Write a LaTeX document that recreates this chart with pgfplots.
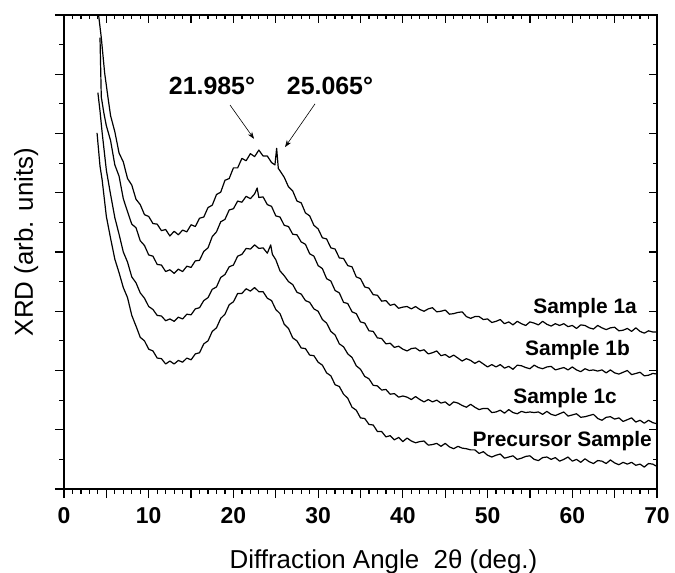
\documentclass[border=0pt]{standalone}
\usepackage{fontspec}
\setmainfont{Liberation Sans}
\usepackage{pgfplots}
\pgfplotsset{compat=1.18}
\usetikzlibrary{arrows.meta}
\tikzset{curve/.style={black, line width=1.2bp, mark=none, line join=round}}

\begin{document}
\begin{tikzpicture}
\path[use as bounding box] (-64bp,-84bp) rectangle (611bp,489bp);
\begin{axis}[
  scale only axis, width=593bp, height=474bp,
  xmin=0, xmax=70, ymin=0, ymax=8,
  axis line style={line width=1.6bp},
  xtick={0,5,...,70},
  xticklabels={\textbf{0},,\textbf{10},,\textbf{20},,\textbf{30},,\textbf{40},,\textbf{50},,\textbf{60},,\textbf{70}},
  minor x tick num=4,
  ytick={0,1,...,8}, yticklabels={},
  minor y tick num=1,
  xtick pos=left, ytick pos=left,
  tick align=outside,
  major tick length=9bp, minor tick length=4.5bp,
  tick style={line width=1.2bp, black},
  xticklabel style={font=\fontsize{23}{23}\selectfont\bfseries, inner sep=0pt, anchor=north, yshift=-9bp},
  xlabel={Diffraction Angle\ \ 2θ (deg.)},
  xlabel style={font=\fontsize{26}{26}\selectfont, at={(axis description cs:0.5388,-0.1667)}, anchor=base},
  ylabel={XRD (arb. units)},
  ylabel style={font=\fontsize{26}{26}\selectfont, at={(axis description cs:-0.0523,0.521)}, anchor=base},
]
% Sample 1a
\addplot[curve] coordinates {(4.0,8.10)(4.4,7.62)(4.8,7.02)(5.2,6.60)(5.5,6.30)(6.0,6.03)(6.5,5.67)(7.0,5.52)(7.5,5.24)(8.0,5.13)(8.5,4.89)(9.0,4.80)(9.5,4.63)(10.0,4.60)(10.5,4.48)(11.0,4.47)(11.5,4.36)(12.0,4.38)(12.5,4.27)(13.0,4.35)(13.5,4.29)(14.0,4.37)(14.5,4.34)(15.0,4.46)(15.5,4.43)(16.0,4.57)(16.5,4.59)(17.0,4.75)(17.5,4.79)(18.0,4.97)(18.5,5.01)(19.0,5.21)(19.5,5.24)(20.0,5.42)(20.5,5.42)(21.0,5.58)(21.5,5.54)(22.0,5.66)(22.5,5.61)(23.0,5.72)(23.5,5.62)(24.0,5.62)(24.5,5.51)(24.9,5.47)(25.1,5.75)(25.3,5.41)(25.5,5.37)(26.0,5.26)(26.5,5.10)(27.0,5.03)(27.5,4.86)(28.0,4.83)(28.5,4.66)(29.0,4.61)(29.5,4.45)(30.0,4.39)(30.5,4.24)(31.0,4.22)(31.5,4.07)(32.0,4.05)(32.5,3.90)(33.0,3.89)(33.5,3.77)(34.0,3.75)(34.5,3.58)(35.0,3.55)(35.5,3.41)(36.0,3.39)(36.5,3.28)(37.0,3.27)(37.5,3.17)(38.0,3.18)(38.5,3.10)(39.0,3.12)(39.5,3.05)
(40.0,3.07)(40.5,3.08)(41.0,3.04)(41.5,3.08)(42.0,3.03)(42.5,3.00)(43.0,3.04)(43.5,3.06)(44.0,2.99)(44.5,3.00)(45.0,3.02)(45.5,2.95)(46.0,2.96)(46.5,2.98)(47.0,2.99)(47.5,2.91)(48.0,2.88)(48.5,2.91)(49.0,2.91)(49.5,2.86)(50.0,2.87)(50.5,2.81)(51.0,2.83)(51.5,2.86)(52.0,2.79)(52.5,2.82)(53.0,2.77)(53.5,2.83)(54.0,2.79)(54.5,2.76)(55.0,2.82)(55.5,2.80)(56.0,2.77)(56.5,2.83)(57.0,2.78)(57.5,2.75)(58.0,2.79)(58.5,2.76)(59.0,2.79)(59.5,2.74)(60.0,2.76)(60.5,2.71)(61.0,2.77)(61.5,2.76)(62.0,2.72)(62.5,2.70)(63.0,2.76)(63.5,2.72)(64.0,2.69)(64.5,2.72)(65.0,2.73)(65.5,2.67)(66.0,2.68)(66.5,2.71)(67.0,2.66)(67.5,2.72)(68.0,2.66)(68.5,2.63)(69.0,2.67)(69.5,2.65)(70.0,2.65)};
% Sample 1b
\addplot[curve] coordinates {(4.25,7.62)(4.4,6.62)(4.7,6.35)(5.0,6.13)(5.5,5.88)(6.0,5.47)(6.5,5.28)(7.0,4.90)(7.5,4.68)(8.0,4.47)(8.5,4.41)(9.0,4.19)(9.5,4.11)(10.0,3.95)(10.5,3.93)(11.0,3.79)(11.5,3.78)(12.0,3.67)(12.5,3.70)(13.0,3.64)(13.5,3.71)(14.0,3.67)(14.5,3.76)(15.0,3.74)(15.5,3.85)(16.0,3.86)(16.5,4.01)(17.0,4.07)(17.5,4.26)(18.0,4.34)(18.5,4.51)(19.0,4.55)(19.5,4.71)(20.0,4.73)(20.5,4.86)(21.0,4.84)(21.5,4.94)(22.0,4.90)(22.5,4.98)(22.8,5.08)(23.0,4.92)(23.5,4.93)(24.0,4.80)(24.5,4.77)(25.0,4.61)(25.5,4.59)(26.0,4.45)(26.5,4.43)(27.0,4.30)(27.5,4.29)(28.0,4.17)(28.5,4.13)(29.0,3.97)(29.5,3.93)(30.0,3.77)(30.5,3.72)(31.0,3.55)(31.5,3.51)(32.0,3.35)(32.5,3.31)(33.0,3.15)(33.5,3.13)(34.0,2.99)(34.5,2.96)(35.0,2.82)(35.5,2.80)(36.0,2.67)(36.5,2.66)(37.0,2.55)(37.5,2.54)(38.0,2.45)(38.5,2.46)(39.0,2.39)(39.5,2.41)
(40.0,2.36)(40.5,2.33)(41.0,2.37)(41.5,2.38)(42.0,2.33)(42.5,2.35)(43.0,2.28)(43.5,2.30)(44.0,2.33)(44.5,2.25)(45.0,2.27)(45.5,2.22)(46.0,2.26)(46.5,2.21)(47.0,2.16)(47.5,2.20)(48.0,2.17)(48.5,2.12)(49.0,2.16)(49.5,2.11)(50.0,2.06)(50.5,2.10)(51.0,2.06)(51.5,2.10)(52.0,2.04)(52.5,2.07)(53.0,2.02)(53.5,2.09)(54.0,2.08)(54.5,2.05)(55.0,2.03)(55.5,2.09)(56.0,2.05)(56.5,2.03)(57.0,2.06)(57.5,2.07)(58.0,2.01)(58.5,2.03)(59.0,2.05)(59.5,2.01)(60.0,2.06)(60.5,2.01)(61.0,1.98)(61.5,2.03)(62.0,2.00)(62.5,2.01)(63.0,1.99)(63.5,2.01)(64.0,1.96)(64.5,2.01)(65.0,1.96)(65.5,1.94)(66.0,1.97)(66.5,2.00)(67.0,1.93)(67.5,1.95)(68.0,1.97)(68.5,1.91)(69.0,1.92)(69.5,1.95)(70.0,1.94)};
% Sample 1c
\addplot[curve] coordinates {(4.0,6.69)(4.25,6.38)(4.5,6.02)(5.0,5.38)(5.5,4.97)(6.0,4.58)(6.5,4.30)(7.0,4.00)(7.5,3.83)(8.0,3.58)(8.5,3.48)(9.0,3.31)(9.5,3.22)(10.0,3.08)(10.5,3.03)(11.0,2.93)(11.5,2.92)(12.0,2.84)(12.5,2.87)(13.0,2.83)(13.5,2.90)(14.0,2.87)(14.5,2.95)(15.0,2.94)(15.5,3.04)(16.0,3.06)(16.5,3.18)(17.0,3.23)(17.5,3.37)(18.0,3.41)(18.5,3.57)(19.0,3.62)(19.5,3.75)(20.0,3.78)(20.5,3.93)(21.0,3.96)(21.5,4.06)(22.0,4.05)(22.5,4.12)(23.0,4.06)(23.5,4.07)(24.0,3.98)(24.4,4.12)(24.6,3.96)(25.0,3.87)(25.5,3.68)(26.0,3.60)(26.5,3.50)(27.0,3.45)(27.5,3.32)(28.0,3.29)(28.5,3.18)(29.0,3.15)(29.5,3.04)(30.0,3.00)(30.5,2.86)(31.0,2.80)(31.5,2.66)(32.0,2.60)(32.5,2.45)(33.0,2.40)(33.5,2.28)(34.0,2.22)(34.5,2.08)(35.0,2.02)(35.5,1.90)(36.0,1.86)(36.5,1.75)(37.0,1.74)(37.5,1.67)(38.0,1.68)(38.5,1.60)(39.0,1.61)(39.5,1.55)
(40.0,1.57)(40.5,1.55)(41.0,1.51)(41.5,1.56)(42.0,1.51)(42.5,1.47)(43.0,1.51)(43.5,1.47)(44.0,1.50)(44.5,1.45)(45.0,1.47)(45.5,1.41)(46.0,1.47)(46.5,1.45)(47.0,1.41)(47.5,1.38)(48.0,1.43)(48.5,1.38)(49.0,1.34)(49.5,1.36)(50.0,1.36)(50.5,1.29)(51.0,1.30)(51.5,1.33)(52.0,1.28)(52.5,1.34)(53.0,1.29)(53.5,1.27)(54.0,1.31)(54.5,1.29)(55.0,1.30)(55.5,1.29)(56.0,1.30)(56.5,1.26)(57.0,1.31)(57.5,1.26)(58.0,1.24)(58.5,1.27)(59.0,1.30)(59.5,1.23)(60.0,1.25)(60.5,1.27)(61.0,1.21)(61.5,1.22)(62.0,1.24)(62.5,1.26)(63.0,1.19)(63.5,1.16)(64.0,1.21)(64.5,1.22)(65.0,1.18)(65.5,1.20)(66.0,1.14)(66.5,1.17)(67.0,1.20)(67.5,1.13)(68.0,1.16)(68.5,1.11)(69.0,1.16)(69.5,1.12)(70.0,1.10)};
% Precursor
\addplot[curve] coordinates {(3.9,6.01)(4.25,5.45)(4.5,5.22)(5.0,4.60)(5.5,4.23)(6.0,3.88)(6.5,3.65)(7.0,3.40)(7.5,3.23)(8.0,2.93)(8.5,2.75)(9.0,2.56)(9.5,2.50)(10.0,2.36)(10.5,2.33)(11.0,2.21)(11.5,2.20)(12.0,2.11)(12.5,2.16)(13.0,2.11)(13.5,2.17)(14.0,2.14)(14.5,2.21)(15.0,2.18)(15.5,2.28)(16.0,2.30)(16.5,2.45)(17.0,2.50)(17.5,2.66)(18.0,2.72)(18.5,2.88)(19.0,2.95)(19.5,3.11)(20.0,3.16)(20.5,3.30)(21.0,3.30)(21.5,3.38)(22.0,3.34)(22.5,3.40)(23.0,3.33)(23.5,3.33)(24.0,3.22)(24.5,3.18)(25.0,3.03)(25.5,2.96)(26.0,2.78)(26.5,2.71)(27.0,2.55)(27.5,2.50)(28.0,2.38)(28.5,2.37)(29.0,2.26)(29.5,2.25)(30.0,2.14)(30.5,2.09)(31.0,1.96)(31.5,1.91)(32.0,1.76)(32.5,1.73)(33.0,1.60)(33.5,1.53)(34.0,1.38)(34.5,1.33)(35.0,1.20)(35.5,1.19)(36.0,1.09)(36.5,1.08)(37.0,0.97)(37.5,0.97)(38.0,0.88)(38.5,0.90)(39.0,0.83)(39.5,0.87)
(40.0,0.80)(40.5,0.86)(41.0,0.81)(41.5,0.78)(42.0,0.80)(42.5,0.81)(43.0,0.74)(43.5,0.75)(44.0,0.77)(44.5,0.72)(45.0,0.77)(45.5,0.71)(46.0,0.68)(46.5,0.72)(47.0,0.69)(47.5,0.68)(48.0,0.66)(48.5,0.66)(49.0,0.60)(49.5,0.63)(50.0,0.57)(50.5,0.54)(51.0,0.57)(51.5,0.59)(52.0,0.52)(52.5,0.54)(53.0,0.56)(53.5,0.50)(54.0,0.52)(54.5,0.55)(55.0,0.56)(55.5,0.50)(56.0,0.48)(56.5,0.53)(57.0,0.54)(57.5,0.50)(58.0,0.53)(58.5,0.47)(59.0,0.50)(59.5,0.54)(60.0,0.47)(60.5,0.50)(61.0,0.45)(61.5,0.51)(62.0,0.46)(62.5,0.43)(63.0,0.48)(63.5,0.47)(64.0,0.43)(64.5,0.49)(65.0,0.44)(65.5,0.41)(66.0,0.45)(66.5,0.42)(67.0,0.45)(67.5,0.40)(68.0,0.42)(68.5,0.37)(69.0,0.43)(69.5,0.42)(70.0,0.38)};
% annotations
\node[font=\fontsize{25}{25}\selectfont\bfseries, anchor=base] at (axis cs:17.47,6.65) {21.985°};
\node[font=\fontsize{25}{25}\selectfont\bfseries, anchor=base] at (axis cs:31.40,6.65) {25.065°};
\draw[-{Stealth[length=7bp,width=5bp]}, line width=0.6bp] (axis cs:19.6,6.48) -- (axis cs:22.43,5.91);
\draw[-{Stealth[length=7bp,width=5bp]}, line width=0.6bp] (axis cs:29.63,6.50) -- (axis cs:26.09,5.77);
\node[font=\fontsize{21}{21}\selectfont\bfseries, anchor=base east, inner sep=0pt] at (axis cs:67.64,2.97) {Sample 1a};
\node[font=\fontsize{21}{21}\selectfont\bfseries, anchor=base east, inner sep=0pt] at (axis cs:66.82,2.245) {Sample 1b};
\node[font=\fontsize{21}{21}\selectfont\bfseries, anchor=base east, inner sep=0pt] at (axis cs:65.28,1.45) {Sample 1c};
\node[font=\fontsize{21}{21}\selectfont\bfseries, anchor=base east, inner sep=0pt] at (axis cs:69.41,0.71) {Precursor Sample};
\end{axis}
\begin{axis}[
  scale only axis, width=593bp, height=474bp,
  xmin=0, xmax=70, ymin=0, ymax=8,
  axis line style={line width=1.6bp},
  xtick={0,5,...,70}, minor x tick num=4,
  ytick={0,1,...,8}, minor y tick num=1,
  xticklabels={}, yticklabels={},
  xtick pos=right, ytick pos=right,
  tick align=inside,
  major tick length=8bp, minor tick length=4bp,
  tick style={line width=1.2bp, black},
]
\addplot[draw=none, mark=none] coordinates {(1,1)(2,2)};
\end{axis}
\end{tikzpicture}
\end{document}
